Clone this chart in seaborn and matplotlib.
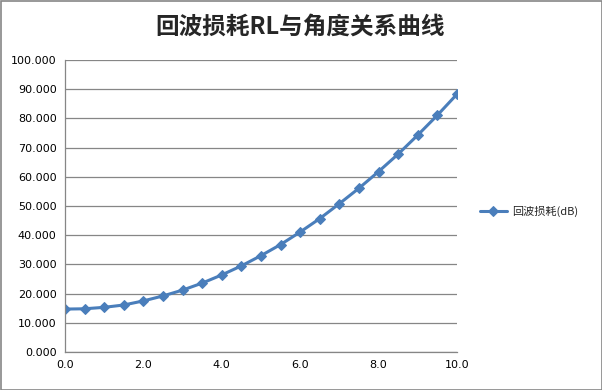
import matplotlib
matplotlib.use("Agg")
import matplotlib.pyplot as plt
import seaborn as sns
import pandas as pd
from matplotlib.patches import Rectangle

angle = [0.0, 0.5, 1.0, 1.5, 2.0, 2.5, 3.0, 3.5, 4.0, 4.5, 5.0,
         5.5, 6.0, 6.5, 7.0, 7.5, 8.0, 8.5, 9.0, 9.5, 10.0]
rl = [14.7, 14.8, 15.3, 16.1, 17.5, 19.2, 21.2, 23.6, 26.4, 29.5, 33.0,
      36.8, 41.1, 45.7, 50.8, 56.1, 61.8, 67.8, 74.3, 81.1, 88.3]
series_name = "回波损耗(dB)"
title = "回波损耗RL与角度关系曲线"
xticks = [0.0, 2.0, 4.0, 6.0, 8.0, 10.0]
yticks = [0, 10, 20, 30, 40, 50, 60, 70, 80, 90, 100]

sns.set_style("white")
plt.rcParams['font.family'] = ['DejaVu Sans', 'Noto Sans CJK SC']

df = pd.DataFrame({"angle": angle, "rl": rl, "series": series_name})

fig = plt.figure(figsize=(6.02, 3.90), dpi=100)
ax = fig.add_axes([65/602, 1-352/390, (457-65)/602, (352-60)/390])

blue = "#4A7EBB"
sns.lineplot(data=df, x="angle", y="rl", hue="series", palette=[blue], ax=ax,
             marker="D", markersize=5.5, linewidth=2.2, markeredgecolor=blue)

ax.set_xlim(0, 10)
ax.set_ylim(0, 100)
ax.set_xticks(xticks)
ax.set_xticklabels([f"{v:.1f}" for v in xticks], fontsize=8)
ax.set_yticks(yticks)
ax.set_yticklabels([f"{v:.3f}" for v in yticks], fontsize=8)
ax.set_xlabel("")
ax.set_ylabel("")
ax.grid(axis="y", color="#868686", linewidth=0.9)
ax.grid(axis="x", visible=False)
for s in ["top", "right"]:
    ax.spines[s].set_visible(False)
for s in ["left", "bottom"]:
    ax.spines[s].set_color("#868686")
    ax.spines[s].set_linewidth(0.9)
ax.tick_params(axis="both", direction="out", length=4, color="#868686",
               width=0.9, labelcolor="black", pad=2)
ax.set_axisbelow(True)

leg = ax.legend(loc="center left", frameon=False,
                prop={'family': ['Noto Sans CJK SC'], 'size': 8},
                handlelength=2.4, handletextpad=0.5)
leg.set_bbox_to_anchor((470/602, 1-211/390), transform=fig.transFigure)

fig.text(300/602, 1-27/390, title, ha="center", va="center", fontsize=17,
         fontweight="bold", family=['Noto Sans CJK SC'])

fig.patches.append(Rectangle((0.5/602, 0.5/390), 1-1/602, 1-1/390,
                             transform=fig.transFigure, fill=False,
                             edgecolor="#868686", linewidth=1.2))

fig.savefig("out.png", dpi=100)
